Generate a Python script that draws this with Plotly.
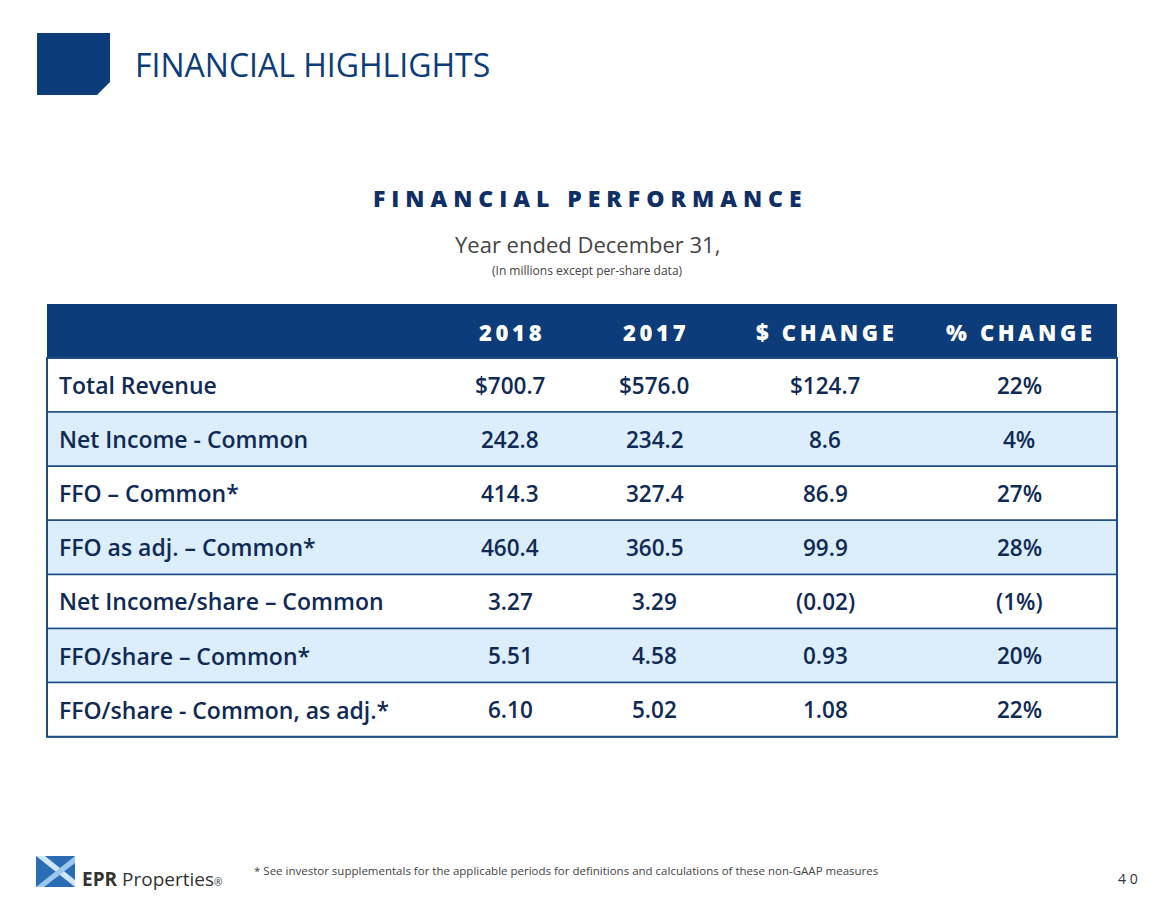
import plotly.graph_objects as go

W, H = 1174, 901
OFF = 8  # default page body margin
headers = ["2018", "2017", "$ CHANGE", "% CHANGE"]
metrics = ["Total Revenue", "Net Income - Common", "FFO – Common*", "FFO as adj. – Common*",
           "Net Income/share – Common", "FFO/share – Common*", "FFO/share - Common, as adj.*"]
v2018 = ["$700.7", "242.8", "414.3", "460.4", "3.27", "5.51", "6.10"]
v2017 = ["$576.0", "234.2", "327.4", "360.5", "3.29", "4.58", "5.02"]
dchange = ["$124.7", "8.6", "86.9", "99.9", "(0.02)", "0.93", "1.08"]
pchange = ["22%", "4%", "27%", "28%", "(1%)", "20%", "22%"]

FW, FH = W - 2 * OFF, H - 2 * OFF
def px(x): return (x - OFF) / FW
def py(y): return 1 - (y - OFF) / FH

navy = "#0d3c7a"
txt = "#0f2a55"
font = "Open Sans"
col_x = [510, 655, 825, 1019]
tx0, tx1, ty0, hh, rh = 47, 1117, 304, 54, 54.1

def spaced(s):
    return "\u2009".join(s)

shapes = [
    dict(type="path", fillcolor=navy, line_width=0,
         path=f"M {px(37)} {py(33)} L {px(110)} {py(33)} L {px(110)} {py(82)} L {px(97)} {py(95)} L {px(37)} {py(95)} Z"),
    dict(type="rect", x0=px(36), x1=px(75), y0=py(887), y1=py(856), fillcolor="#2a6db5", line_width=0),
    dict(type="path", fillcolor="#cfe6fb", line_width=0,
         path=f"M {px(36)} {py(856)} L {px(75)} {py(887)} L {px(75)} {py(880)} L {px(45)} {py(856)} Z"),
    dict(type="path", fillcolor="#9cc8f0", line_width=0,
         path=f"M {px(75)} {py(856)} L {px(36)} {py(887)} L {px(44)} {py(887)} L {px(75)} {py(863)} Z"),
    dict(type="rect", x0=px(tx0), x1=px(tx1), y0=py(ty0), y1=py(ty0 + hh), fillcolor=navy, line_width=0),
]
anns = []
for j, h in enumerate(headers):
    anns.append(dict(x=px(col_x[j]), y=py(ty0 + hh / 2 + 1), text=spaced(h), xanchor="center",
                     font=dict(size=22, color="white", family=font, weight=800)))
for i, m in enumerate(metrics):
    y0 = ty0 + hh + i * rh
    shapes.append(dict(type="rect", x0=px(tx0), x1=px(tx1), y0=py(y0), y1=py(y0 + rh),
                       fillcolor="#ffffff" if i % 2 == 0 else "#dcedfb",
                       line=dict(color="#1f4e86", width=1.5)))
    yc = py(y0 + rh / 2)
    anns.append(dict(x=px(57), y=yc, text=m, xanchor="left",
                     font=dict(size=23, color=txt, family=font, weight=600)))
    for j, v in enumerate([v2018[i], v2017[i], dchange[i], pchange[i]]):
        anns.append(dict(x=px(col_x[j]), y=yc, text=v, xanchor="center",
                         font=dict(size=22.5, color=txt, family=font, weight=600)))
shapes.append(dict(type="rect", x0=px(tx0), x1=px(tx1), y0=py(ty0 + hh), y1=py(ty0 + hh + 7 * rh),
                   line=dict(color="#1f4e86", width=2)))
for s in shapes:
    s.update(xref="paper", yref="paper")

anns += [
    dict(x=px(133), y=py(64), text="FINANCIAL HIGHLIGHTS", xanchor="left",
         font=dict(size=32, color=navy, family=font, weight=500)),
    dict(x=px(587), y=py(198), text="F I N A N C I A L   P E R F O R M A N C E", xanchor="center",
         font=dict(size=23, color="#0f2f66", family=font, weight=800)),
    dict(x=px(587), y=py(244), text="Year ended December 31,", xanchor="center",
         font=dict(size=22, color="#444444", family=font)),
    dict(x=px(587), y=py(270), text="(In millions except per-share data)", xanchor="center",
         font=dict(size=12, color="#444444", family=font)),
    dict(x=px(80), y=py(879), text="<b>EPR</b> Properties<span style='font-size:10px'>®</span>", xanchor="left",
         font=dict(size=19, color="#333333", family=font)),
    dict(x=px(252), y=py(870), text="* See investor supplementals for the applicable periods for definitions and calculations of these non-GAAP measures",
         font=dict(size=11.5, color="#444444", family=font), xanchor="left"),
    dict(x=px(1140), y=py(878), text="4 0", font=dict(size=14, color="#333333", family=font), xanchor="right"),
]
for a in anns:
    a.update(xref="paper", yref="paper", showarrow=False, yanchor="middle")

fig = go.Figure()
fig.update_layout(width=FW, height=FH, margin=dict(l=0, r=0, t=0, b=0),
                  paper_bgcolor="white", plot_bgcolor="white", shapes=shapes, annotations=anns,
                  xaxis=dict(visible=False), yaxis=dict(visible=False))
fig.write_html("out.html")
